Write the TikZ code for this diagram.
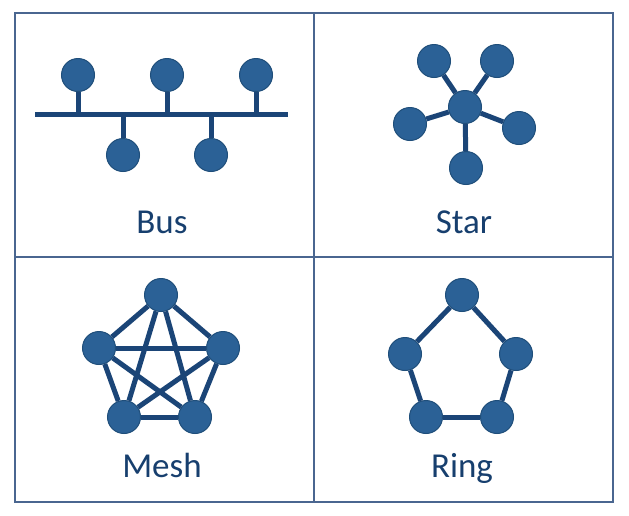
\documentclass[tikz,border=0pt]{standalone}
\usepackage{fontspec}
\setmainfont{Carlito}
\usepackage{xcolor}
\usepackage{tikz}
\usetikzlibrary{positioning,calc}
\definecolor{nodeblue}{HTML}{2B6196}
\definecolor{nodeedge}{HTML}{1F4E7A}
\definecolor{wireblue}{HTML}{1B4577}
\definecolor{textblue}{HTML}{173F6E}
\definecolor{frameblue}{HTML}{4A6690}
\tikzset{
  host/.style={
     circle,
     draw=nodeedge,
     fill=nodeblue,
     line width=1pt,
     inner sep=0pt,
     minimum size=33pt
  },
  cable/.style={
     draw=wireblue,
     line width=5pt
  },
  panel/.style={
     draw=frameblue,
     line width=2pt
  },
  topo label/.style={
     anchor=base,
     text=textblue,
     font=\fontsize{35}{40}\selectfont
  },
}

\begin{document}
\begin{tikzpicture}[x=1pt,y=-1pt]
        % page size
        \useasboundingbox (0,0) rectangle (629,515);
        \fill[white] (0,0) rectangle (629,515);

        % Frame
        \draw[panel] (15,13) rectangle (613,502);
        \draw[panel] (314,13) -- (314,502);
        \draw[panel] (15,257) -- (613,257);

        % Bus
        \coordinate (busL) at (35,114);
        \coordinate (busR) at (288,114);
        \draw[cable] (busL) -- (busR);
        \node[host] (b1) at (78,75) {};
        \node[host] (b2) at (167,75) {};
        \node[host] (b3) at (256,75) {};
        \node[host] (b4) at (123,155) {};
        \node[host] (b5) at (211,155) {};
        \foreach \n in {b1,b2,b3,b4,b5}
            \draw[cable] (\n) -- (\n |- busL);
        \node[topo label] (busname) at (162,233) {Bus};

        % Star
        \node[host] (hub) at (465,107) {};
        \node[host] (s1) at (434,61) {};
        \node[host] (s2) at (497,61) {};
        \node[host] (s3) at (410,124) {};
        \node[host] (s4) at (519,128) {};
        \node[host] (s5) at (466,168) {};
        \foreach \n in {s1,s2,s3,s4,s5}
            \draw[cable] (hub) -- (\n);
        \node[topo label] (starname) at (464,233) {Star};

        % Mesh
        \node[host] (m1) at (161,295) {};
        \node[host] (m2) at (223,348) {};
        \node[host] (m3) at (195,417) {};
        \node[host] (m4) at (124,417) {};
        \node[host] (m5) at (99,348) {};
        \foreach \a/\b in {m1/m2,m1/m3,m1/m4,m1/m5,m2/m3,m2/m4,m2/m5,m3/m4,m3/m5,m4/m5}
            \draw[cable] (\a) -- (\b);
        \node[topo label] (meshname) at (162,477) {Mesh};

        % Ring
        \node[host] (r1) at (462,295) {};
        \node[host] (r2) at (516,354) {};
        \node[host] (r3) at (497,417) {};
        \node[host] (r4) at (426,417) {};
        \node[host] (r5) at (405,354) {};
        \foreach \a/\b in {r1/r2,r2/r3,r3/r4,r4/r5,r5/r1}
            \draw[cable] (\a) -- (\b);
        \node[topo label] (ringname) at (462,477) {Ring};
    \end{tikzpicture}
\end{document}
